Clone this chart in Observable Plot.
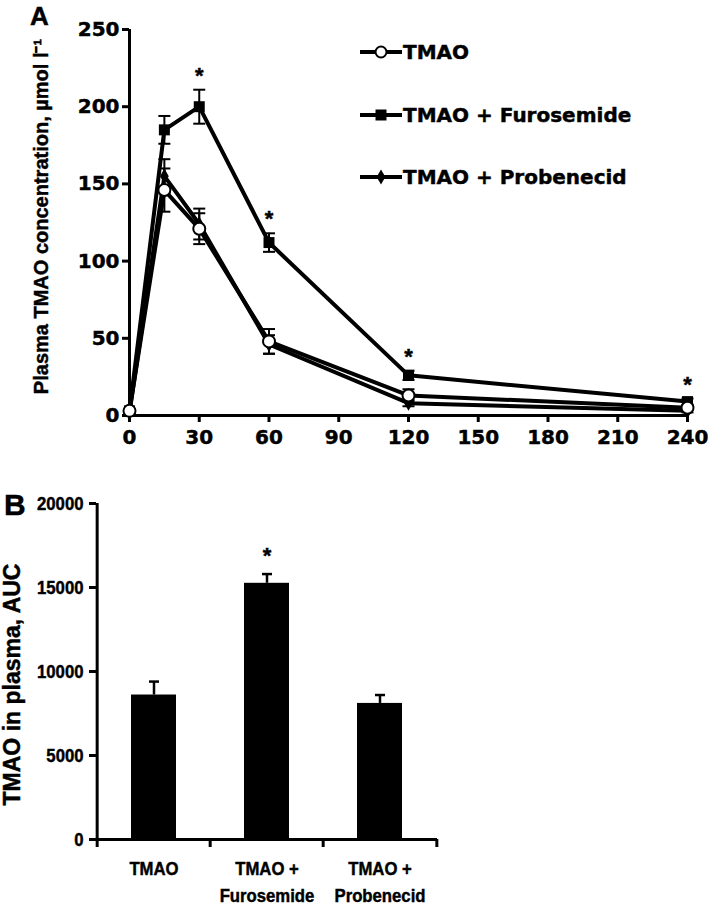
<!DOCTYPE html>
<html>
<head>
<meta charset="utf-8">
<script src="https://cdn.jsdelivr.net/npm/d3@7"></script>
<script src="https://cdn.jsdelivr.net/npm/@observablehq/plot@0.6"></script>
<style>
  html, body { margin: 0; padding: 0; background: white; }
  #wrap { width: 709px; position: relative; }
  #wrap svg { display: block; }
  #wrap svg text { stroke: black; stroke-width: 0.45px; }
</style>
</head>
<body>
<div id="wrap"></div>
<script>
// ---------- Panel A data ----------
const times = [0, 15, 30, 60, 120, 240];
const seriesNames = ["TMAO", "TMAO + Furosemide", "TMAO + Probenecid"];
const tmaoMean = [3, 146, 121, 48, 13, 5];
const tmaoSem  = [1, 14, 10, 8, 4, 1];
const furoMean = [3, 185, 200, 112, 26, 9];
const furoSem  = [1, 9, 11, 6, 3, 2];
const probMean = [2, 155, 124, 46, 8, 3];
const probSem  = [1, 11, 10, 6, 2, 1];
const sigTimes = [30, 60, 120, 240];
const xTicksA = [0, 30, 60, 90, 120, 150, 180, 210, 240];
const yTicksA = [0, 50, 100, 150, 200, 250];
const yLabelA = "Plasma TMAO concentration, µmol l⁻¹";

// ---------- Panel B data ----------
const groups = ["TMAO", "TMAO + Furosemide", "TMAO + Probenecid"];
const groupLabels = ["TMAO", "TMAO +\nFurosemide", "TMAO +\nProbenecid"];
const aucMean = [8600, 15250, 8100];
const aucSem  = [800, 550, 500];
const sigGroups = ["TMAO + Furosemide"];
const yTicksB = [0, 5000, 10000, 15000, 20000];
const yLabelB = "TMAO in plasma, AUC";

// ---------- build tables ----------
const means = [tmaoMean, furoMean, probMean];
const sems = [tmaoSem, furoSem, probSem];
const rowsA = [];
seriesNames.forEach((s, k) => times.forEach((t, i) => rowsA.push({series: s, t, v: means[k][i], e: sems[k][i]})));
const furoRows = rowsA.filter(d => d.series === seriesNames[1]);
const rowsB = groups.map((g, i) => ({g, v: aucMean[i], e: aucSem[i], label: groupLabels[i]}));

const capA = {draw(ctx) { ctx.moveTo(-6, 0); ctx.lineTo(6, 0); }};
const capB = {draw(ctx) { ctx.moveTo(-5, 0); ctx.lineTo(5, 0); }};

const fontA = "'DejaVu Sans', sans-serif";
const fontL = "'Liberation Sans', Arial, sans-serif";

// ---------- Panel A ----------
const WA = 709, HA = 455, mlA = 129, mrA = 22, mtA = 29, mbA = 40;
const plotA = Plot.plot({
  width: WA, height: HA,
  marginLeft: mlA, marginRight: mrA, marginTop: mtA, marginBottom: mbA,
  style: {fontFamily: fontA, fontSize: "20px", fontWeight: "bold", color: "black", background: "white", overflow: "visible"},
  x: {domain: [0, 240]},
  y: {domain: [0, 250]},
  marks: [
    Plot.axisX({ticks: xTicksA, tickSize: 7, tickPadding: 7, strokeWidth: 3, label: null, fontSize: 20}),
    Plot.axisY({ticks: yTicksA, tickSize: 7, tickPadding: 3, strokeWidth: 3, label: null, fontSize: 20}),
    Plot.ruleX([0], {strokeWidth: 3}),
    Plot.ruleY([0], {strokeWidth: 3}),
    Plot.line(rowsA, {x: "t", y: "v", z: "series", stroke: "black", strokeWidth: 4}),
    Plot.ruleX(rowsA, {x: "t", y1: d => d.v - d.e, y2: d => d.v + d.e, stroke: "black", strokeWidth: 2}),
    Plot.dot(rowsA, {x: "t", y: d => d.v + d.e, symbol: capA, stroke: "black", strokeWidth: 2, fill: "none"}),
    Plot.dot(rowsA, {x: "t", y: d => d.v - d.e, symbol: capA, stroke: "black", strokeWidth: 2, fill: "none"}),
    Plot.dot(rowsA.filter(d => d.series === seriesNames[1]), {x: "t", y: "v", symbol: "square", r: 6.2, fill: "black"}),
    Plot.dot(rowsA.filter(d => d.series === seriesNames[2]), {x: "t", y: "v", symbol: "diamond", r: 4.6, fill: "black"}),
    Plot.dot(rowsA.filter(d => d.series === seriesNames[0]), {x: "t", y: "v", symbol: "circle", r: 6, fill: "white", stroke: "black", strokeWidth: 2}),
    Plot.text(furoRows.filter(d => sigTimes.includes(d.t)), {x: "t", y: d => d.v + d.e, text: () => "*", dy: -14, fontSize: 22, fontFamily: fontL}),
    Plot.text([yLabelA], {frameAnchor: "left", textAnchor: "middle", rotate: -90, dx: -88, dy: -6, fontSize: 20, fontFamily: fontL, text: d => d})
  ]
});

// legend + panel letter for A
{
  const svg = d3.select(plotA);
  const lg = svg.append("g").attr("text-anchor", "start");
  const items = [
    {name: seriesNames[0], sym: d3.symbolCircle, size: Math.PI * 30, fill: "white", stroke: "black"},
    {name: seriesNames[1], sym: d3.symbolSquare, size: 121, fill: "black", stroke: "none"},
    {name: seriesNames[2], sym: d3.symbolDiamond, size: 66, fill: "black", stroke: "none"}
  ];
  const legendY = [52, 115, 177];
  items.forEach((it, i) => {
    const y = legendY[i];
    lg.append("line").attr("x1", 360).attr("x2", 402).attr("y1", y).attr("y2", y)
      .attr("stroke", "black").attr("stroke-width", 4);
    lg.append("path").attr("d", d3.symbol(it.sym, it.size)()).attr("transform", `translate(381,${y})`)
      .attr("fill", it.fill).attr("stroke", it.stroke).attr("stroke-width", 2);
    lg.append("text").attr("x", 403).attr("y", y).attr("dy", "0.36em")
      .attr("font-family", fontA).attr("font-size", 20).attr("font-weight", "bold").attr("fill", "black")
      .text(it.name);
  });
  svg.append("text").attr("x", 30).attr("y", 25).attr("text-anchor", "start")
    .attr("font-family", fontL).attr("font-size", 26).attr("font-weight", "bold")
    .text("A");
}

// ---------- Panel B ----------
const WB = 709, HB = 457, mlB = 96, mrB = 272, mtB = 48, mbB = 73;
const stepB = (WB - mlB - mrB) / 3;
const labelOf = new Map(groups.map((g, i) => [g, groupLabels[i]]));
const plotB = Plot.plot({
  width: WB, height: HB,
  marginLeft: mlB, marginRight: mrB, marginTop: mtB, marginBottom: mbB,
  style: {fontFamily: fontL, fontSize: "19px", fontWeight: "bold", color: "black", background: "white", overflow: "visible"},
  x: {domain: groups, paddingInner: 0.6, paddingOuter: 0.3},
  y: {domain: [0, 20000]},
  marks: [
    Plot.barY(rowsB, {x: "g", y: "v", fill: "black"}),
    Plot.ruleX(rowsB, {x: "g", y1: "v", y2: d => d.v + d.e, stroke: "black", strokeWidth: 2.5}),
    Plot.dot(rowsB, {x: "g", y: d => d.v + d.e, symbol: capB, stroke: "black", strokeWidth: 2.5, fill: "none"}),
    Plot.text(rowsB.filter(d => sigGroups.includes(d.g)), {x: "g", y: d => d.v + d.e, text: () => "*", dy: -18, fontSize: 22}),
    Plot.axisY({ticks: yTicksB, tickSize: 7, tickPadding: 6, strokeWidth: 3, label: null, tickFormat: d3.format("d"), fontSize: 19}),
    Plot.axisX({tickSize: 0, tickPadding: 16, label: null, tickFormat: g => labelOf.get(g), fontSize: 19, lineHeight: 1.42}),
    Plot.axisX({tickSize: 8, tickFormat: () => "", label: null, strokeWidth: 3, dx: -stepB / 2}),
    Plot.axisX([groups[groups.length - 1]], {tickSize: 8, tickFormat: () => "", label: null, strokeWidth: 3, dx: stepB / 2}),
    Plot.ruleY([0], {strokeWidth: 3}),
    Plot.ruleX([groups[0]], {strokeWidth: 3, dx: -stepB / 2}),
    Plot.text([yLabelB], {frameAnchor: "left", textAnchor: "middle", rotate: -90, dx: -84, dy: 13, fontSize: 23, text: d => d})
  ]
});
// slightly condense the tick labels of panel B, as in the reference
d3.select(plotB).selectAll('g[aria-label="y-axis tick label"] text, g[aria-label="x-axis tick label"] text')
  .attr("transform", function() { return (this.getAttribute("transform") || "") + " scale(0.88,1)"; });
d3.select(plotB).append("text").attr("x", 4).attr("y", 60).attr("text-anchor", "start")
  .attr("font-family", fontL).attr("font-size", 30).attr("font-weight", "bold")
  .text("B");

document.getElementById("wrap").append(plotA, plotB);
</script>
</body>
</html>
